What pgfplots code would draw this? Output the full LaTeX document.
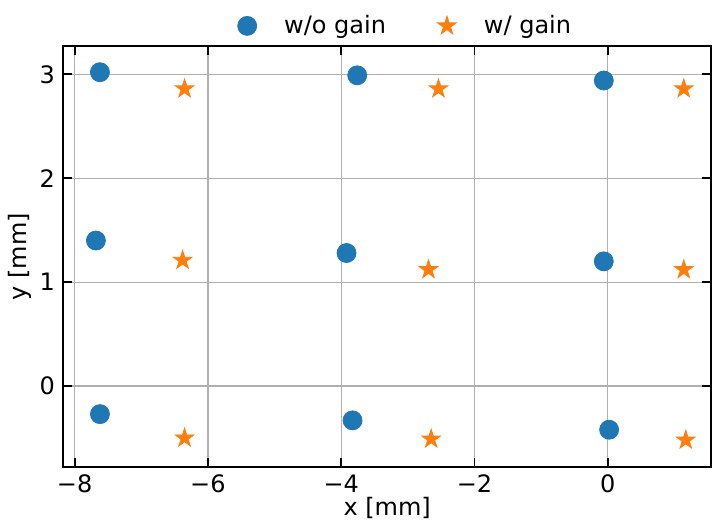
\documentclass[border=0pt]{standalone}
\usepackage{fontspec}
\setmainfont{DejaVu Sans}
\usepackage{pgfplots}
\pgfplotsset{compat=1.18}
\definecolor{cblue}{HTML}{1F77B4}
\definecolor{corange}{HTML}{FF7F0E}
\pgfdeclareplotmark{fstar}{%
  \pgfpathmoveto{\pgfpointpolar{90}{\pgfplotmarksize}}%
  \pgfpathlineto{\pgfpointpolar{126}{0.382\pgfplotmarksize}}%
  \pgfpathlineto{\pgfpointpolar{162}{\pgfplotmarksize}}%
  \pgfpathlineto{\pgfpointpolar{198}{0.382\pgfplotmarksize}}%
  \pgfpathlineto{\pgfpointpolar{234}{\pgfplotmarksize}}%
  \pgfpathlineto{\pgfpointpolar{270}{0.382\pgfplotmarksize}}%
  \pgfpathlineto{\pgfpointpolar{306}{\pgfplotmarksize}}%
  \pgfpathlineto{\pgfpointpolar{342}{0.382\pgfplotmarksize}}%
  \pgfpathlineto{\pgfpointpolar{18}{\pgfplotmarksize}}%
  \pgfpathlineto{\pgfpointpolar{54}{0.382\pgfplotmarksize}}%
  \pgfpathclose
  \pgfusepathqfillstroke
}
\begin{document}
\fontsize{12}{14}\selectfont
\begin{tikzpicture}
\begin{axis}[
  scale only axis,
  width=324pt, height=210.5pt,
  xmin=-8.17, xmax=1.55,
  ymin=-0.78, ymax=3.27,
  xtick={-8,-6,-4,-2,0},
  xticklabels={−8,−6,−4,−2,0},
  ytick={0,1,2,3},
  yticklabels={0,1,2,3},
  tick align=inside,
  major tick length=4.5pt,
  tick style={line width=0.9pt, black},
  axis line style={line width=0.9pt},
  grid=major,
  major grid style={color=black!31, line width=0.6pt},
  xlabel={x [mm]}, ylabel={y [mm]},
  xlabel style={yshift=6pt},
  ylabel style={yshift=-4pt},
  xticklabel style={yshift=0.5pt},
  legend style={at={(0.52,1.0)}, anchor=south, draw=none, fill=none,
    legend columns=2, yshift=-3pt, inner ysep=5.5pt,
    /tikz/every even column/.style={column sep=17.5pt}},
  legend cell align=left,
  legend image code/.code={\path[draw=none,fill=none] (0pt,-5pt) rectangle (27.5pt,5pt);
    \draw[#1, mark repeat=2, mark phase=2] plot coordinates {(0pt,0pt)(11pt,0pt)(22pt,0pt)};},
]
\addplot[only marks, mark=*, mark size=4.75pt, color=cblue, mark options={draw=none, fill=cblue}] coordinates {
  (-7.62,3.02) (-3.76,2.99) (-0.06,2.94)
  (-7.68,1.40) (-3.92,1.28) (-0.06,1.20)
  (-7.62,-0.27) (-3.83,-0.33) (0.02,-0.42)
};
\addlegendentry{w/o gain}
\addplot[only marks, mark=fstar, mark size=4.9pt, color=corange, mark options={draw=corange, fill=corange, line width=0.4pt}] coordinates {
  (-6.35,2.86) (-2.54,2.86) (1.14,2.86)
  (-6.38,1.21) (-2.69,1.12) (1.14,1.12)
  (-6.35,-0.50) (-2.65,-0.51) (1.17,-0.52)
};
\addlegendentry{w/ gain}
\end{axis}
\end{tikzpicture}
\end{document}
